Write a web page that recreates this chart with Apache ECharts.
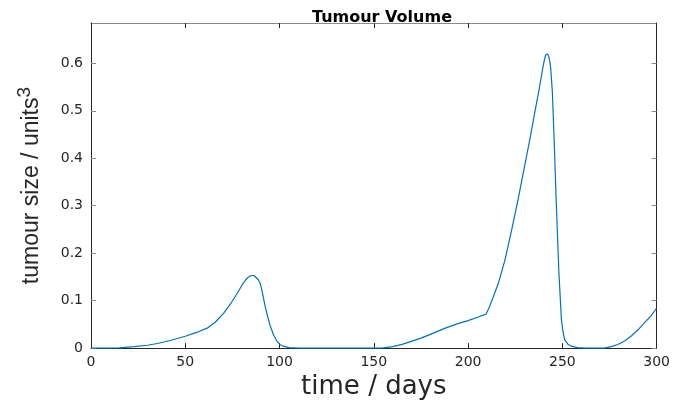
<!DOCTYPE html>
<html>
<head>
<meta charset="utf-8">
<script src="https://cdn.jsdelivr.net/npm/echarts@6/dist/echarts.min.js"></script>
<style>html,body{margin:0;padding:0;background:#fff}#c{width:673px;height:405px}</style>
</head>
<body>
<div id="c"></div>
<script>
const titleText = 'Tumour Volume';
const xLabel = 'time / days';
const yLabelMain = 'tumour size / units';
const yLabelSup = '3';
const xTicks = [0, 50, 100, 150, 200, 250, 300];
const yTicks = [0, 0.1, 0.2, 0.3, 0.4, 0.5, 0.6];

const days = [0, 10, 15, 22.9, 30, 35.2, 42, 50, 56, 61.6, 66, 70.4, 74, 77.5, 80, 81.9, 83, 84, 85, 85.7, 86.5, 87.5, 88.7, 89.8, 91, 92.4, 93.8, 95.1, 96.8, 98.6, 100.3, 102, 105, 110,
  150, 155, 160, 165, 170.3, 175, 180, 187.9, 195, 200, 205, 209.5,
  211, 213, 216, 219.5, 223, 226.5, 230.1, 233, 235.4, 237.8, 239.8, 240.5, 241.1, 241.7, 242.2, 242.8, 243.3, 243.8, 244.7, 245.6, 246.8, 248.1, 249.5, 250.3, 251.2, 253, 254.7, 258, 262,
  272, 276, 279.4, 283, 286.4, 290, 293.5, 297, 300];
const volume = [0, 0, 0.0005, 0.003, 0.006, 0.0097, 0.016, 0.025, 0.033, 0.042, 0.055, 0.0736, 0.093, 0.115, 0.132, 0.143, 0.148, 0.151, 0.153, 0.1535, 0.153, 0.150, 0.144, 0.136, 0.115, 0.0875, 0.065, 0.046, 0.028, 0.0146, 0.007, 0.004, 0.001, 0,
  0, 0.0005, 0.003, 0.008, 0.0146, 0.021, 0.029, 0.042, 0.052, 0.058, 0.065, 0.0715,
  0.084, 0.104, 0.136, 0.185, 0.247, 0.313, 0.386, 0.445, 0.497, 0.548, 0.594, 0.608, 0.617, 0.621, 0.620, 0.614, 0.605, 0.590, 0.54, 0.442, 0.303, 0.164, 0.06, 0.035, 0.018, 0.008, 0.004, 0.001, 0,
  0, 0.003, 0.0076, 0.015, 0.025, 0.038, 0.053, 0.068, 0.084];

const data = days.map((d, i) => [d, volume[i]]);
const chart = echarts.init(document.getElementById('c'), null, {renderer: 'canvas'});

const tickFont = {fontFamily: 'DejaVu Sans', fontSize: 14, color: '#262626'};
const xMin = xTicks[0], xMax = xTicks[xTicks.length - 1];
const yMax = 0.685;

chart.setOption({
  animation: false,
  title: {
    text: titleText, left: 377, textAlign: 'center', top: 5,
    textStyle: {fontFamily: 'DejaVu Sans', fontWeight: 'bold', fontSize: 16, color: '#000'}
  },
  grid: {left: 91, right: 14, top: 23, bottom: 53, containLabel: false},
  xAxis: [{
    type: 'value', min: xMin, max: xMax, interval: 50, position: 'bottom',
    name: xLabel, nameLocation: 'middle', nameGap: 24,
    nameTextStyle: {fontFamily: 'DejaVu Sans', fontSize: 26, color: '#262626'},
    axisLine: {onZero: false, lineStyle: {color: '#262626', width: 1}},
    axisTick: {inside: true, length: 5, lineStyle: {color: '#262626'}},
    axisLabel: Object.assign({margin: 7, formatter: v => xTicks.includes(v) ? String(v) : ''}, tickFont),
    splitLine: {show: false}
  }, {
    type: 'value', min: xMin, max: xMax, interval: 50, position: 'top',
    axisLine: {show: true, onZero: false, lineStyle: {color: '#8a8a8a', width: 1}},
    axisTick: {inside: true, length: 5, lineStyle: {color: '#262626'}},
    axisLabel: {show: false}, splitLine: {show: false}
  }],
  yAxis: [{
    type: 'value', min: 0, max: yMax, interval: 0.1, position: 'left',
    name: '{a|' + yLabelMain + '}{s|' + yLabelSup + '}', nameLocation: 'middle', nameGap: 43,
    nameTextStyle: {
      color: '#262626',
      rich: {
        a: {fontFamily: 'Liberation Sans', fontSize: 23, color: '#262626'},
        s: {fontFamily: 'Liberation Sans', fontSize: 19, color: '#262626', verticalAlign: 'top', padding: [0, 0, 14, 0]}
      }
    },
    axisLine: {show: true, onZero: false, lineStyle: {color: '#262626', width: 1}},
    axisTick: {inside: true, length: 5, lineStyle: {color: '#8a8a8a'}},
    axisLabel: Object.assign({margin: 8, showMaxLabel: false, formatter: v => {
      const m = yTicks.find(t => Math.abs(t - v) < 1e-9);
      return m === undefined ? '' : String(m);
    }}, tickFont),
    splitLine: {show: false}
  }, {
    type: 'value', min: 0, max: yMax, interval: 0.1, position: 'right',
    axisLine: {show: true, onZero: false, lineStyle: {color: '#262626', width: 1}},
    axisTick: {inside: true, length: 5, lineStyle: {color: '#8a8a8a'}},
    axisLabel: {show: false}, splitLine: {show: false}
  }],
  series: [{
    type: 'line', data: data, xAxisIndex: 0, yAxisIndex: 0,
    showSymbol: false, smooth: false,
    lineStyle: {color: '#0072BD', width: 1.2},
    itemStyle: {color: '#0072BD'}
  }]
});
</script>
</body>
</html>
